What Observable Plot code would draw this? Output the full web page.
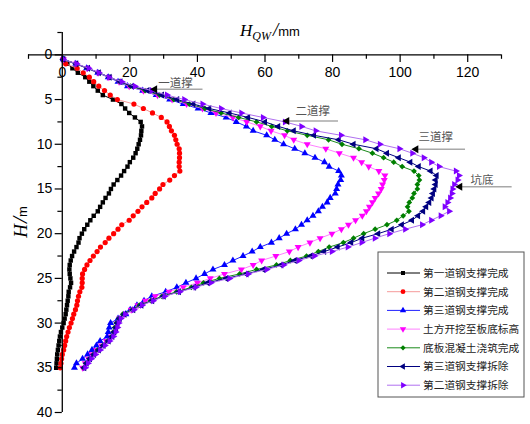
<!DOCTYPE html>
<html><head><meta charset="utf-8">
<script src="https://cdn.jsdelivr.net/npm/d3@7"></script>
<script src="https://cdn.jsdelivr.net/npm/@observablehq/plot@0.6"></script>
<style>body{margin:0;background:#fff}#chart{width:530px;height:424px}</style>
</head><body><div id="chart"></div>
<script>
const depth = [0.5,1,1.5,2,2.5,3,3.5,4,4.5,5,5.5,6,6.5,7,7.5,8,8.5,9,9.5,10,
10.5,11,11.5,12,12.5,13,13.5,14,14.5,15,15.5,16,16.5,17,17.5,18,18.5,19,19.5,20,
20.5,21,21.5,22,22.5,23,23.5,24,24.5,25,25.5,26,26.5,27,27.5,28,28.5,29,29.5,30,
30.5,31,31.5,32,32.5,33,33.5,34,34.5,35];

const seriesNames = ["第一道钢支撑完成","第二道钢支撑完成","第三道钢支撑完成","土方开挖至板底标高","底板混凝土浇筑完成","第三道钢支撑拆除","第二道钢支撑拆除"];

const s1 = [0.3,1.5,3.0,4.6,6.8,8.0,9.2,10.5,12.0,15.0,
17.5,18.6,19.8,21.5,23.2,23.6,23.4,23.3,23.0,22.6,
22.2,21.7,21.0,20.0,19.3,18.3,17.4,16.3,15.2,14.4,
13.8,12.8,12.0,11.2,10.5,9.3,8.3,7.4,6.5,5.8,
5.1,4.8,4.2,3.5,2.9,2.5,2.2,2.1,2.2,2.4,
2.6,2.3,1.9,1.8,1.6,1.4,1.2,1.0,0.7,0.4,
0.0,-0.4,-0.7,-0.9,-1.1,-1.3,-1.5,-1.6,-1.7,-1.8];
const s2 = [0.2,1.0,4.4,6.2,8.0,9.3,10.8,12.5,14.2,16.3,
21.2,24.0,26.7,29.3,31.0,31.7,32.3,33.2,33.6,34.0,
34.6,34.7,34.7,34.6,34.6,34.8,33.2,31.8,29.8,28.8,
27.5,26.5,25.0,23.6,22.4,21.0,19.8,17.6,16.5,15.2,
13.8,12.7,11.3,10.3,9.2,8.2,7.3,6.6,6.0,5.9,
5.9,5.8,5.2,4.8,4.5,4.3,3.9,3.4,3.0,2.6,
2.1,1.7,1.3,1.0,0.7,0.4,0.0,-0.2,-0.4,-0.6];
const s3 = [0.3,4.0,7.2,10.5,13.6,16.5,19.3,23.8,27.8,31.8,
35.8,40.2,44.0,48.5,51.5,54.5,56.5,60.5,62.9,65.5,
68.8,71.8,74.8,77.6,79.0,81.8,82.6,82.4,81.6,81.2,
80.8,79.3,78.4,77.0,75.8,74.2,72.5,70.8,69.0,66.4,
64.2,61.9,58.6,56.2,53.5,50.5,48.0,44.6,42.1,39.6,
36.6,33.9,30.6,26.5,24.2,22.1,20.1,18.8,16.5,14.3,
13.9,13.6,13.3,11.2,10.1,8.8,7.5,6.0,4.2,3.6];
const s4 = [0.3,4.0,7.4,10.6,13.8,16.8,19.8,24.0,28.2,32.5,
36.8,41.5,45.5,50.5,54.6,58.6,61.8,65.8,68.5,72.5,
78.0,82.0,86.2,88.6,90.7,93.7,95.5,95.3,94.8,94.4,
93.6,92.6,91.8,90.9,90.0,88.8,86.8,84.7,82.6,79.8,
76.3,73.3,69.8,67.2,63.2,59.0,56.5,53.0,48.0,43.8,
40.0,35.8,31.6,27.5,24.6,22.4,20.4,18.5,17.0,16.4,
16.0,15.6,14.6,13.0,11.6,10.2,8.8,7.8,6.8,6.0];
const s5 = [0.3,4.0,7.5,10.7,13.9,17.0,20.2,24.5,28.8,33.0,
37.6,42.2,47.0,52.2,57.5,62.0,66.6,72.5,78.8,82.8,
87.8,91.8,95.1,98.1,100.6,104.1,105.5,105.7,105.1,105.1,
104.1,103.6,102.7,102.2,102.6,100.9,99.0,96.1,92.6,89.2,
86.2,83.2,79.0,75.8,72.3,67.5,63.4,57.5,52.5,46.5,
41.8,38.2,33.8,29.5,26.2,22.8,20.7,17.9,16.7,16.0,
15.5,15.1,14.6,13.5,12.0,10.5,9.2,8.0,7.0,6.3];
const s6 = [0.3,4.1,7.6,10.8,14.0,17.2,20.6,25.2,29.5,34.0,
38.8,43.5,49.5,55.0,60.0,63.9,68.5,74.5,81.8,86.2,
93.0,96.1,99.6,103.0,105.5,109.0,110.8,110.5,110.5,110.1,
109.7,109.3,108.6,107.7,106.8,105.3,103.5,100.5,97.5,93.5,
88.8,85.5,81.5,77.5,73.5,68.8,64.8,59.5,54.5,48.5,
43.0,39.0,34.5,30.0,26.6,23.4,21.0,18.4,17.0,16.3,
15.9,15.4,14.8,13.7,12.2,10.8,9.4,8.2,7.2,6.5];
const s7 = [0.3,4.2,7.8,10.8,13.8,17.6,21.5,26.5,31.0,36.1,
41.5,47.0,53.0,59.4,65.9,70.8,75.0,82.5,89.7,94.0,
99.8,103.6,107.0,109.2,111.5,116.5,117.4,117.0,116.0,115.5,
115.3,114.8,114.0,113.2,114.5,112.0,109.2,106.5,101.5,96.8,
92.5,88.6,84.5,79.8,74.6,70.0,65.5,60.5,55.0,49.5,
44.0,39.5,34.8,30.3,26.9,23.6,21.2,18.6,17.3,16.7,
16.3,15.8,15.1,14.0,12.6,11.2,9.8,8.6,7.6,6.8];

const xMajor = [0,20,40,60,80,100,120];
const xMinor = [-10,10,30,50,70,90,110,130];
const yMajor = [0,5,10,15,20,25,30,35,40];
const yMinor = [-2.5,2.5,7.5,12.5,17.5,22.5,27.5,32.5,37.5];

const annLabels = ["一道撑","二道撑","三道撑","坑底"];
const annDepth = [3.85,7.39,10.56,14.75];
const annTipX = [26.5,65.6,103.8,116.8];
const annEndX = [41.5,81.6,119.2,133];
const annTextX = [28.4,69,105.4,120.8];
const annTextDepth = [3.17,6.33,9.22,14.0];

// styles
const styles = [
  {fill:"#000000", line:"#000000", symbol:"square", rotate:0},
  {fill:"#ff0000", line:"#f59a9a", symbol:"circle", rotate:0},
  {fill:"#0000ff", line:"#2020ff", symbol:"triangle", rotate:0},
  {fill:"#ff00ff", line:"#ff80ff", symbol:"triangle", rotate:180},
  {fill:"#008000", line:"#1a8a1a", symbol:"diamond2", rotate:0},
  {fill:"#000080", line:"#000080", symbol:"triangle", rotate:-90},
  {fill:"#7f00ff", line:"#b070f0", symbol:"triangle", rotate:90}
];
const allSeries = [s1,s2,s3,s4,s5,s6,s7];
const tables = allSeries.map((vals, k) => depth.map((d, i) => ({depth: d, v: vals[i], name: seriesNames[k]})));

const seriesMarks = tables.flatMap((t, k) => [
  Plot.line(t, {x: "v", y: "depth", stroke: styles[k].line, strokeWidth: 1}),
  Plot.dot(t, {x: "v", y: "depth", symbol: styles[k].symbol, rotate: styles[k].rotate, r: k === 0 ? 2.5 : 2.6, fill: styles[k].fill, stroke: "none"})
]);

const annIdx = annLabels.map((_, i) => i);
const chart = Plot.plot({
  width: 530, height: 424,
  marginLeft: 28, marginRight: 29, marginTop: 32, marginBottom: 12,
  style: {fontFamily: "Liberation Sans, Arial, sans-serif", background: "white", overflow: "visible"},
  x: {domain: [-10, 130], axis: null},
  y: {domain: [-2.5, 40], reverse: true, axis: null},
  marks: [
    ...seriesMarks,
    // axes
    Plot.ruleY([0], {x1: -10, x2: 130, stroke: "#000", strokeWidth: 1.3}),
    Plot.ruleX([0], {y1: -2.5, y2: 40, stroke: "#000", strokeWidth: 1.3}),
    Plot.ruleX(xMajor, {x: d => d, y1: 0, y2: 0.85, stroke: "#000", strokeWidth: 1.2}),
    Plot.ruleX(xMinor, {x: d => d, y1: 0, y2: 0.5, stroke: "#000", strokeWidth: 1.2}),
    Plot.ruleY(yMajor, {y: d => d, x1: -2.1, x2: 0, stroke: "#000", strokeWidth: 1.2}),
    Plot.ruleY(yMinor, {y: d => d, x1: -1.3, x2: 0, stroke: "#000", strokeWidth: 1.2}),
    Plot.text(xMajor, {x: d => d, y: 0, dy: 18, text: d => String(d), fontSize: 14, fill: "#000"}),
    Plot.text(yMajor, {x: 0, y: d => d, dx: -10, text: d => String(d), textAnchor: "end", fontSize: 14, fill: "#000"}),
    // annotations
    Plot.link(annIdx, {x1: i => annTipX[i], x2: i => annEndX[i], y1: i => annDepth[i], y2: i => annDepth[i], stroke: "#a8a8a8", strokeWidth: 1.6}),
    Plot.dot(annIdx, {x: i => annTipX[i], y: i => annDepth[i], symbol: "triangle", rotate: -90, r: 3, dx: 3, fill: "#000"}),
    Plot.text(annIdx, {x: i => annTextX[i], y: i => annTextDepth[i], text: i => annLabels[i], textAnchor: "start", fontSize: 11.5, fill: "#555", fontFamily: "Noto Sans CJK SC"})
  ]
});
document.getElementById("chart").appendChild(chart);

const svg = d3.select(chart);
// x title
const xt = svg.append("text").attr("x", 240).attr("y", 36).attr("fill", "#000").attr("text-anchor", "start");
xt.append("tspan").attr("font-family", "Liberation Serif, Times New Roman, serif").attr("font-style", "italic").attr("font-size", 17).text("H");
xt.append("tspan").attr("font-family", "Liberation Serif, Times New Roman, serif").attr("font-style", "italic").attr("font-size", 12).attr("dy", 4).text("QW");
xt.append("tspan").attr("font-family", "Liberation Serif, Times New Roman, serif").attr("font-style", "italic").attr("font-size", 19).attr("dy", -4).attr("dx", 2).text("/");
xt.append("tspan").attr("font-family", "Liberation Sans, Arial, sans-serif").attr("font-size", 13).text("mm");
// y title
const yt = svg.append("text").attr("transform", "translate(27,222) rotate(-90)").attr("text-anchor", "middle").attr("fill", "#000");
yt.append("tspan").attr("font-family", "Liberation Serif, Times New Roman, serif").attr("font-style", "italic").attr("font-size", 19).text("H");
yt.append("tspan").attr("font-family", "Liberation Serif, Times New Roman, serif").attr("font-style", "italic").attr("font-size", 22).attr("dx", 1).text("/");
yt.append("tspan").attr("font-family", "Liberation Sans, Arial, sans-serif").attr("font-size", 13).text("m");

// legend
const symMap = {square: d3.symbolSquare, circle: d3.symbolCircle, triangle: d3.symbolTriangle, diamond2: d3.symbolDiamond2};
const lg = svg.append("g").attr("transform", "translate(378,252)");
lg.append("rect").attr("width", 146).attr("height", 145).attr("fill", "#fff").attr("stroke", "#555").attr("stroke-width", 1);
seriesNames.forEach((name, k) => {
  const yy = 21 + k * 18.7;
  lg.append("line").attr("x1", 9).attr("x2", 42).attr("y1", yy).attr("y2", yy).attr("stroke", styles[k].line).attr("stroke-width", 1);
  lg.append("path").attr("d", d3.symbol().type(symMap[styles[k].symbol]).size(k === 0 ? 16 : 18)())
    .attr("transform", `translate(25,${yy}) rotate(${styles[k].rotate})`).attr("fill", styles[k].fill);
  lg.append("text").attr("x", 45).attr("y", yy).attr("dy", "0.36em").attr("font-size", 10.7).attr("text-anchor", "start")
    .attr("font-family", "Noto Sans CJK SC").attr("fill", "#222").text(name);
});
</script></body></html>
